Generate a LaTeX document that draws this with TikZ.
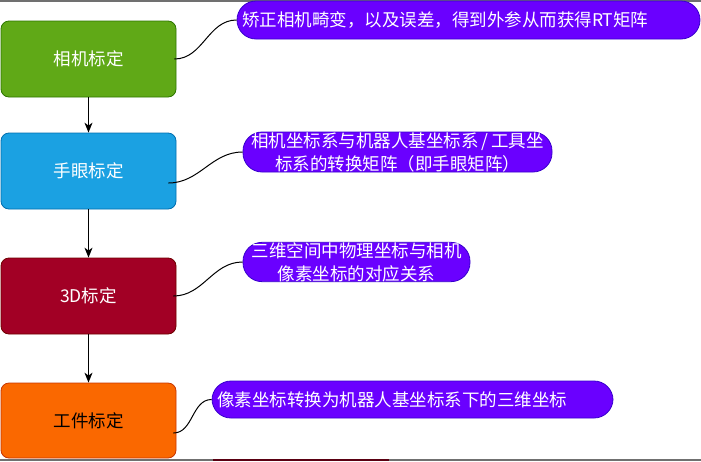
\documentclass[tikz,border=0pt]{standalone}
\usepackage{fontspec}
\setmainfont{Noto Sans CJK SC}
\usetikzlibrary{arrows.meta}
\definecolor{gfill}{HTML}{60A917}\definecolor{gline}{HTML}{2D7600}
\definecolor{bfill}{HTML}{1BA1E2}\definecolor{bline}{HTML}{006EAF}
\definecolor{rfill}{HTML}{A20025}\definecolor{rline}{HTML}{6F0000}
\definecolor{ofill}{HTML}{FA6800}\definecolor{oline}{HTML}{C73500}
\definecolor{pfill}{HTML}{6A00FF}\definecolor{pline}{HTML}{3700CC}
\definecolor{edgegray}{HTML}{707070}
\definecolor{edgered}{HTML}{5A0012}
\begin{document}
\begin{tikzpicture}[x=1pt,y=-1pt,
  font=\fontsize{17.5pt}{23pt}\selectfont,
  stepbox/.style={rectangle,rounded corners=8pt,line width=0.8pt,minimum width=175pt,minimum height=76pt,text=white},
  callout/.style={rectangle,rounded corners=19pt,line width=0.8pt,fill=pfill,draw=pline,text=white,inner ysep=0pt,inner xsep=5pt},
  conn/.style={line width=1pt,black},
  arr/.style={line width=1pt,black,-{Stealth[length=10pt,width=8pt,inset=3pt]}}]
\useasboundingbox (0,0) rectangle (701,461);
% screenshot edges
\fill[edgegray] (0,0) rectangle (701,1.5);
\fill[edgegray] (0,459) rectangle (701,461);
\fill[edgered] (213,459) rectangle (389,461);
% step boxes
\node[stepbox,fill=gfill,draw=gline] (b1) at (88.5,59) {相机标定};
\node[stepbox,fill=bfill,draw=bline] (b2) at (88.5,171) {手眼标定};
\node[stepbox,fill=rfill,draw=rline] (b3) at (88.5,296) {3D标定};
\node[stepbox,fill=ofill,draw=oline,text=black,minimum height=75pt] (b4) at (88.5,420.5) {工件标定};
% callouts
\node[callout,text width=453pt,align=left,minimum height=38pt] (c1) at (468.5,20) {矫正相机畸变，以及误差，得到外参从而获得RT矩阵};
\node[callout,text width=299pt,align=center,minimum height=40pt] (c2) at (397.5,152) {相机坐标系与机器人基坐标系\hspace{3pt}/\hspace{3pt}工具坐\\标系的转换矩阵（即手眼矩阵）};
\node[callout,text width=217pt,align=center,minimum height=38pt] (c3) at (356.5,262) {三维空间中物理坐标与相机\\像素坐标的对应关系};
\node[callout,text width=391pt,align=left,minimum height=37pt] (c4) at (412.5,399.5) {像素坐标转换为机器人基坐标系下的三维坐标};
% flow arrows
\draw[arr] (b1.south) -- (b2.north);
\draw[arr] (b2.south) -- (b3.north);
\draw[arr] (b3.south) -- (b4.north);
% curved connectors
\draw[conn] ([xshift=-2pt]b1.east) to[out=0,in=180] (c1.west);
\draw[conn] ([xshift=-8pt,yshift=-12pt]b2.east) to[out=0,in=180] (c2.west);
\draw[conn] ([xshift=-3pt]b3.east) to[out=0,in=180] (c3.west);
\draw[conn] ([xshift=-3pt,yshift=-12.5pt]b4.east) to[out=0,in=180] (c4.west);
\end{tikzpicture}
\end{document}
